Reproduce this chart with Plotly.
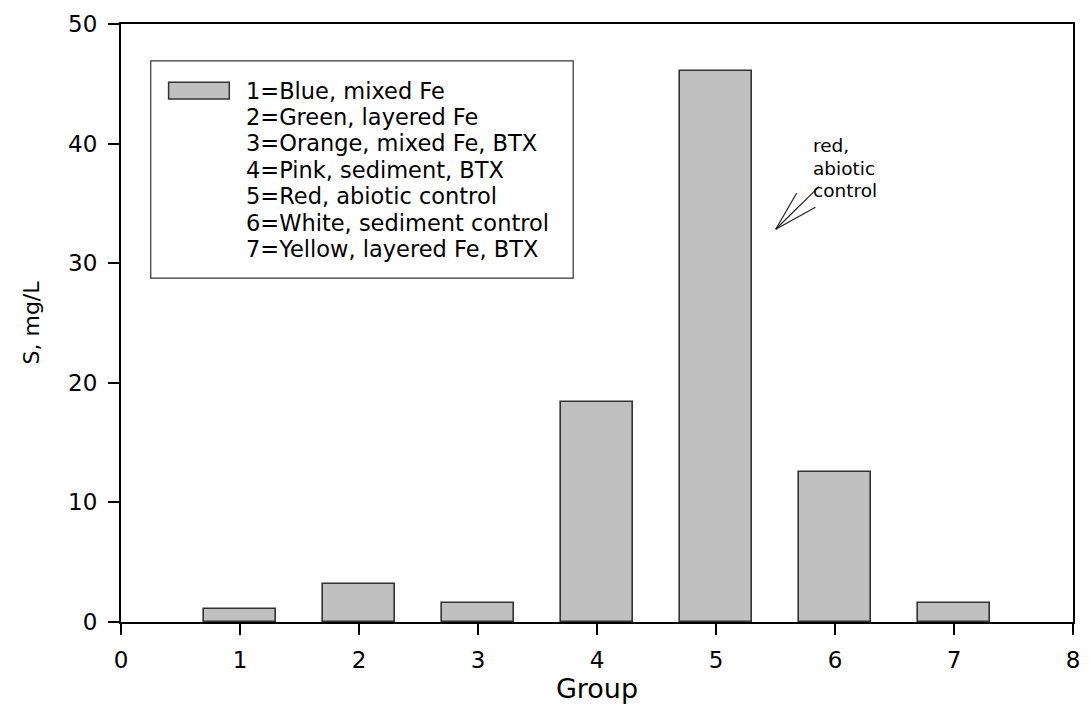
import plotly.graph_objects as go

# ---- data ----
groups = [1, 2, 3, 4, 5, 6, 7]
s_mg_l = [1.08, 3.2, 1.6, 18.37, 46.1, 12.55, 1.6]
legend_lines = [
    "1=Blue, mixed Fe",
    "2=Green, layered Fe",
    "3=Orange, mixed Fe, BTX",
    "4=Pink, sediment, BTX",
    "5=Red, abiotic control",
    "6=White, sediment control",
    "7=Yellow, layered Fe, BTX",
]
x_ticks = [0, 1, 2, 3, 4, 5, 6, 7, 8]
y_ticks = [0, 10, 20, 30, 40, 50]
note_lines = ["red,", "abiotic", "control"]

FONT = "DejaVu Sans"
BAR_FILL = "#c0c0c0"
BAR_LINE = "#333333"

fig = go.Figure()
fig.add_trace(go.Bar(
    x=groups, y=s_mg_l, width=0.6,
    marker=dict(color=BAR_FILL, line=dict(color=BAR_LINE, width=1.6)),
    showlegend=False, hoverinfo="x+y",
))

axis_common = dict(
    showline=True, linecolor="black", linewidth=2, mirror=True,
    ticks="outside", ticklen=11, tickwidth=2, tickcolor="black",
    showgrid=False, zeroline=False,
    tickfont=dict(family=FONT, size=23, color="black"),
)

fig.update_layout(
    width=1090, height=721,
    margin=dict(l=121, r=10, t=24, b=99),
    paper_bgcolor="white", plot_bgcolor="white",
    showlegend=False,
    bargap=0,
    xaxis=dict(range=[0, 8], tickvals=x_ticks, ticklabelstandoff=5,
               title=dict(text="Group", font=dict(family=FONT, size=27, color="black"), standoff=0),
               **axis_common),
    yaxis=dict(range=[0, 50], tickvals=y_ticks, ticklabelstandoff=6,
               title=dict(text="S, mg/L", font=dict(family=FONT, size=22, color="black"), standoff=22),
               **axis_common),
)

# legend box (drawn manually to match the wide swatch)
fig.add_shape(type="rect", xref="x", yref="y", x0=0.25, x1=3.8, y0=28.75, y1=46.92,
              line=dict(color="#333333", width=1.2), fillcolor="rgba(0,0,0,0)", layer="above")
fig.add_shape(type="rect", xref="x", yref="y", x0=0.40, x1=0.91, y0=43.72, y1=45.14,
              line=dict(color=BAR_LINE, width=1.5), fillcolor=BAR_FILL, layer="above")
for k, line in enumerate(legend_lines):
    fig.add_annotation(xref="x", yref="y", x=1.035, y=44.44 - 2.212 * k,
                       xanchor="left", yanchor="middle", text=line, showarrow=False,
                       font=dict(family=FONT, size=22.5, color="black"))

# note with open arrow
for k, line in enumerate(note_lines):
    fig.add_annotation(xref="x", yref="y", x=5.80, y=39.85 - 1.9 * k,
                       xanchor="left", yanchor="middle", text=line, showarrow=False,
                       font=dict(family=FONT, size=18.5, color="black"))
tip = (5.502, 32.84)
for end in [(5.866, 36.40), (5.677, 35.85), (5.836, 34.68)]:
    fig.add_shape(type="line", xref="x", yref="y", x0=tip[0], y0=tip[1], x1=end[0], y1=end[1],
                  line=dict(color="#222222", width=1.2))

fig.write_html("out.html")
